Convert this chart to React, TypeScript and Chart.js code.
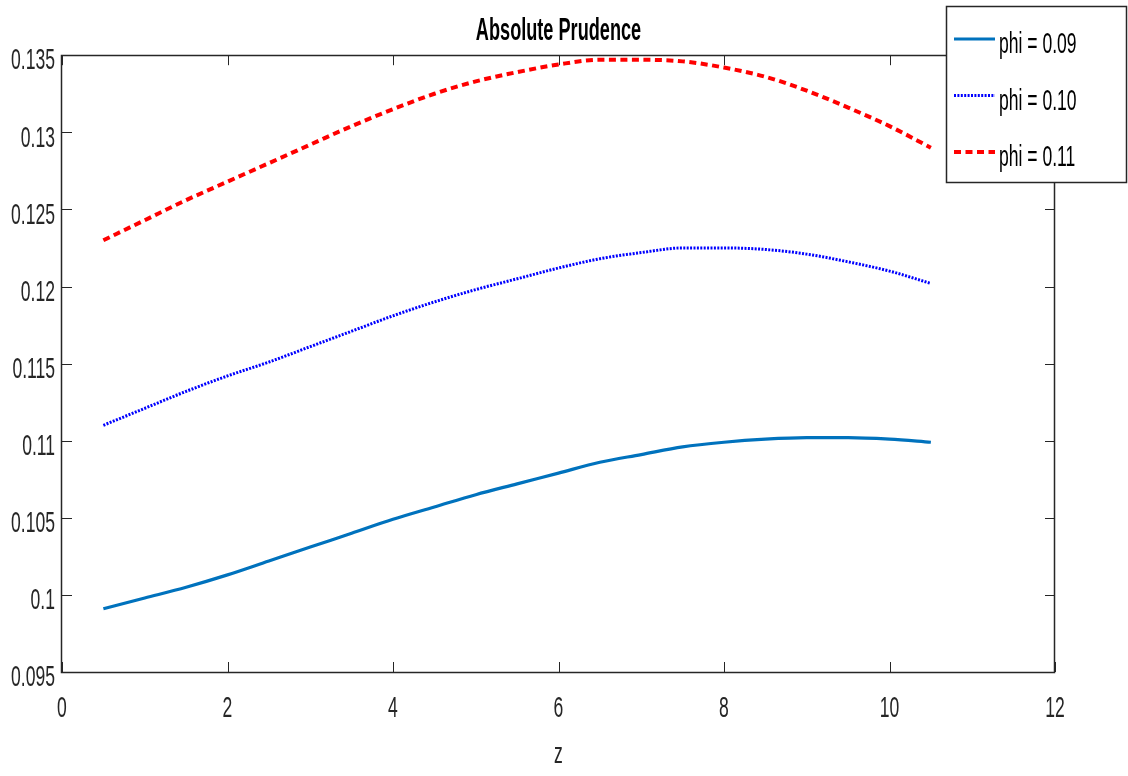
import React, { useEffect, useRef } from "react";
import { Chart, registerables } from "chart.js";

Chart.register(...registerables);

// ---- data ----
const Z_VALUES = [0.5, 1, 1.5, 2, 2.5, 3, 3.5, 4, 4.5, 5, 5.5, 6, 6.5, 7, 7.5, 8, 8.5, 9, 9.5, 10, 10.5];
const PHI_009 = [0.0991, 0.0998, 0.1005, 0.1013, 0.1022, 0.1031, 0.104, 0.1049, 0.1057, 0.1065, 0.1072, 0.1079, 0.1086, 0.1091, 0.1096, 0.1099, 0.1101, 0.1102, 0.1102, 0.1101, 0.1099];
const PHI_010 = [0.111, 0.1121, 0.1132, 0.1142, 0.1151, 0.1161, 0.1171, 0.1181, 0.119, 0.1198, 0.1205, 0.1212, 0.1218, 0.1222, 0.1225, 0.1225, 0.1224, 0.1221, 0.1216, 0.121, 0.1202];
const PHI_011 = [0.123, 0.1243, 0.1256, 0.1268, 0.128, 0.1292, 0.1304, 0.1315, 0.1325, 0.1333, 0.1339, 0.1344, 0.1347, 0.1347, 0.1346, 0.1342, 0.1336, 0.1327, 0.1316, 0.1304, 0.129];
const SERIES_LABELS = ["phi = 0.09", "phi = 0.10", "phi = 0.11"];
const X_TICKS = [0, 2, 4, 6, 8, 10, 12];
const Y_TICKS = [0.095, 0.1, 0.105, 0.11, 0.115, 0.12, 0.125, 0.13, 0.135];
const TITLE = "Absolute Prudence";
const X_TITLE = "z";

const FONT = "'Liberation Sans', Arial, Helvetica, sans-serif";
const AXIS_COLOR = "#262626";
const TEXT_SQUEEZE = 0.585; // horizontal condensing of all text, as in the reference

const toPoints = (ys: number[]) => Z_VALUES.map((z, i) => ({ x: z, y: ys[i] }));

const condensedTextPlugin = {
  id: "condensedText",
  beforeInit(chart: any) {
    const ctx = chart.ctx;
    if (ctx.__condensed) return;
    const orig = ctx.fillText.bind(ctx);
    ctx.fillText = (text: string, x: number, y: number, maxWidth?: number) => {
      ctx.save();
      ctx.translate(x, y);
      ctx.scale(TEXT_SQUEEZE, 1);
      if (maxWidth !== undefined) orig(text, 0, 0, maxWidth / TEXT_SQUEEZE);
      else orig(text, 0, 0);
      ctx.restore();
    };
    ctx.__condensed = true;
  },
};

const boxPlugin = {
  id: "matlabBox",
  beforeDatasetsDraw(chart: any) {
    const { ctx, chartArea: a, scales } = chart;
    const tick = 10;
    ctx.save();
    ctx.strokeStyle = AXIS_COLOR;
    ctx.lineWidth = 1;
    ctx.beginPath();
    scales.x.ticks.forEach((t: any) => {
      const px = Math.round(scales.x.getPixelForValue(t.value)) + 0.5;
      ctx.moveTo(px, a.bottom);
      ctx.lineTo(px, a.bottom - tick);
      ctx.moveTo(px, a.top);
      ctx.lineTo(px, a.top + tick);
    });
    scales.y.ticks.forEach((t: any) => {
      const py = Math.round(scales.y.getPixelForValue(t.value)) + 0.5;
      ctx.moveTo(a.left, py);
      ctx.lineTo(a.left + tick, py);
      ctx.moveTo(a.right, py);
      ctx.lineTo(a.right - tick, py);
    });
    ctx.stroke();
    ctx.lineWidth = 1.5;
    ctx.strokeRect(Math.round(a.left) - 0.5, Math.round(a.top) + 0.5, Math.round(a.right - a.left), Math.round(a.bottom - a.top));
    ctx.restore();
  },
};

const legendPlugin = {
  id: "matlabLegend",
  afterDraw(chart: any) {
    const { ctx, chartArea: a, width } = chart;
    const left = Math.round(a.right) - 109;
    const top = 6;
    const right = width - 2;
    const bottom = 182;
    ctx.save();
    ctx.fillStyle = "#ffffff";
    ctx.fillRect(left, top, right - left, bottom - top);
    ctx.strokeStyle = AXIS_COLOR;
    ctx.lineWidth = 1.5;
    ctx.strokeRect(left + 0.5, top + 0.5, right - left, bottom - top);
    const rowH = 56.5;
    chart.data.datasets.forEach((ds: any, i: number) => {
      const cy = top + 33 + i * rowH;
      ctx.beginPath();
      ctx.strokeStyle = ds.borderColor;
      ctx.lineWidth = ds.borderWidth;
      ctx.setLineDash(ds.borderDash || []);
      ctx.moveTo(left + 8, cy);
      ctx.lineTo(left + 49, cy);
      ctx.stroke();
      ctx.setLineDash([]);
      ctx.fillStyle = "#000000";
      ctx.font = `30px ${FONT}`;
      ctx.textAlign = "left";
      ctx.textBaseline = "middle";
      ctx.fillText(ds.label, left + 53, cy + 6);
    });
    ctx.restore();
  },
};

export default function App() {
  const canvasRef = useRef<HTMLCanvasElement | null>(null);

  useEffect(() => {
    if (!canvasRef.current) return;
    const chart = new Chart(canvasRef.current, {
      type: "line",
      data: {
        datasets: [
          {
            label: SERIES_LABELS[0],
            data: toPoints(PHI_009),
            borderColor: "#0072BD",
            borderWidth: 3.2,
            pointRadius: 0,
            cubicInterpolationMode: "monotone",
            fill: false,
          },
          {
            label: SERIES_LABELS[1],
            data: toPoints(PHI_010),
            borderColor: "#0000FF",
            borderWidth: 3,
            borderDash: [2, 1.4],
            pointRadius: 0,
            cubicInterpolationMode: "monotone",
            fill: false,
          },
          {
            label: SERIES_LABELS[2],
            data: toPoints(PHI_011),
            borderColor: "#FF0000",
            borderWidth: 4,
            borderDash: [7, 4.5],
            pointRadius: 0,
            cubicInterpolationMode: "monotone",
            fill: false,
          },
        ],
      },
      options: {
        responsive: false,
        animation: false,
        devicePixelRatio: 1,
        layout: { padding: { left: 0, right: 73, top: 0, bottom: 0 } },
        plugins: {
          legend: { display: false },
          tooltip: { enabled: false },
          title: {
            display: true,
            text: TITLE,
            fullSize: false,
            color: "#000000",
            font: { family: FONT, size: 31, weight: "bold", lineHeight: 1.2 },
            padding: { top: 13, bottom: 5 },
          },
        },
        scales: {
          x: {
            type: "linear",
            min: 0,
            max: 12,
            afterBuildTicks: (scale: any) => {
              scale.ticks = X_TICKS.map((v) => ({ value: v }));
            },
            afterFit: (scale: any) => {
              scale.height = 104;
            },
            grid: { display: false, drawTicks: false },
            border: { display: false },
            ticks: {
              color: AXIS_COLOR,
              font: { family: FONT, size: 30, lineHeight: 1.2 },
              padding: 19,
              maxRotation: 0,
              autoSkip: false,
              callback: (v: any) => String(v),
            },
            title: {
              display: true,
              text: X_TITLE,
              color: AXIS_COLOR,
              font: { family: FONT, size: 30, lineHeight: 1.2 },
              padding: { top: 0, bottom: 3 },
            },
          },
          y: {
            type: "linear",
            min: 0.095,
            max: 0.135,
            afterBuildTicks: (scale: any) => {
              scale.ticks = Y_TICKS.map((v) => ({ value: v }));
            },
            afterFit: (scale: any) => {
              scale.width = 62;
            },
            grid: { display: false, drawTicks: false },
            border: { display: false },
            ticks: {
              color: AXIS_COLOR,
              font: { family: FONT, size: 30, lineHeight: 1.2 },
              padding: 7,
              labelOffset: 6,
              autoSkip: false,
              callback: (v: any) => String(Number(Number(v).toFixed(3))),
            },
          },
        },
      },
      plugins: [condensedTextPlugin, boxPlugin, legendPlugin],
    });
    return () => chart.destroy();
  }, []);

  return (
    <div style={{ position: "absolute", left: 0, top: 0, width: 1128, height: 776, background: "#ffffff" }}>
      <canvas ref={canvasRef} width={1128} height={776} style={{ width: 1128, height: 776, display: "block" }} />
    </div>
  );
}
